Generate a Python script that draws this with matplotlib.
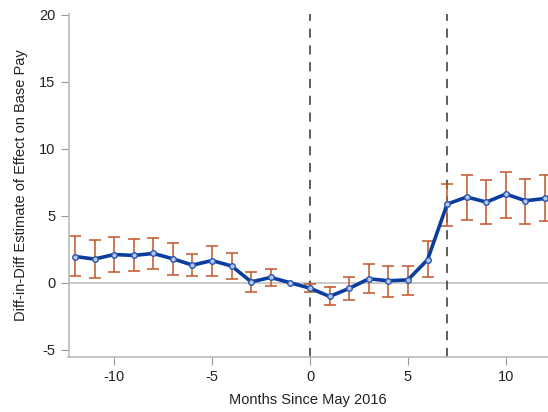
import numpy as np
import matplotlib.pyplot as plt

plt.rcParams['font.family'] = ['Liberation Sans', 'DejaVu Sans']
plt.rcParams['axes.unicode_minus'] = False

months = np.arange(-12, 13)
est = [1.96, 1.77, 2.11, 2.04, 2.19, 1.79, 1.32, 1.66, 1.25, 0.07, 0.40, 0.0,
       -0.40, -1.02, -0.42, 0.30, 0.15, 0.22, 1.72, 5.87, 6.40, 6.02, 6.62, 6.12, 6.29]
ci_hi = [3.46, 3.16, 3.38, 3.26, 3.33, 2.96, 2.16, 2.76, 2.21, 0.77, 1.04, 0.0,
         -0.07, -0.32, 0.40, 1.37, 1.29, 1.29, 3.11, 7.37, 8.06, 7.66, 8.23, 7.78, 8.01]
ci_lo = [0.47, 0.35, 0.80, 0.87, 1.02, 0.60, 0.47, 0.52, 0.30, -0.72, -0.25, 0.0,
         -0.72, -1.69, -1.25, -0.77, -1.04, -0.92, 0.40, 4.25, 4.72, 4.40, 4.87, 4.40, 4.60]
events = [0, 7]

est = np.array(est)
yerr = [est - np.array(ci_lo), np.array(ci_hi) - est]
# reference month (-1) has no interval
mask = months != -1

fig = plt.figure(figsize=(5.48, 4.12), dpi=100)
ax = fig.add_axes([0.125, 0.133, 0.875, 0.833])

ax.axhline(0, color='#c0c0c0', lw=1.2, zorder=1)
for e in events:
    ax.axvline(e, color='#333333', lw=1.1, ls=(0, (6, 5)), zorder=1)

ax.errorbar(months[mask], est[mask], yerr=[yerr[0][mask], yerr[1][mask]], fmt='none',
            ecolor='#c0562a', elinewidth=1.3, capsize=4.5, capthick=1.3, alpha=0.85, zorder=2)
ax.plot(months, est, color='#0b3d9e', lw=2.6, marker='o', ms=4,
        mfc='#b8c8ea', mec='#2a55b0', mew=1.0, zorder=3)

ax.set_xlim(-12.33, 12.15)
ax.set_ylim(-5.55, 20.05)
ax.set_xticks([-10, -5, 0, 5, 10])
ax.set_yticks([-5, 0, 5, 10, 15, 20])
ax.set_xlabel('Months Since May 2016', fontsize=10.5, color='#222222', labelpad=6)
ax.set_ylabel('Diff-in-Diff Estimate of Effect on Base Pay', fontsize=10.5, color='#222222', labelpad=8)

for s in ['top', 'right']:
    ax.spines[s].set_visible(False)
for s in ['left', 'bottom']:
    ax.spines[s].set_color('#bbbbbb')
    ax.spines[s].set_linewidth(1.2)
ax.tick_params(colors='#999999', labelcolor='#222222', labelsize=10.5, length=6, width=0.8)

fig.savefig('out.png', dpi=100)
